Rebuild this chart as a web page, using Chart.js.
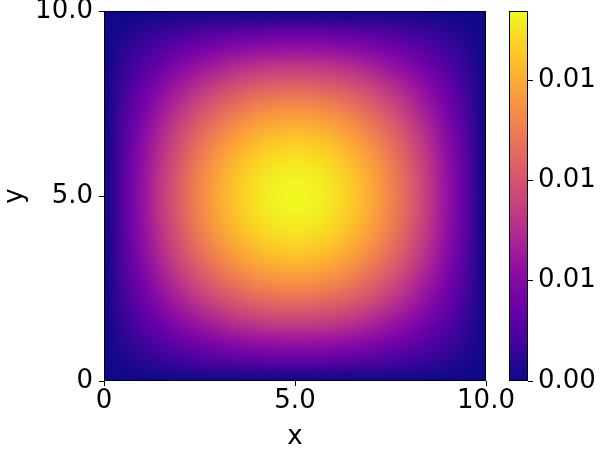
<!DOCTYPE html>
<html lang="en">
<head>
    <meta charset="UTF-8">
    <title>Heatmap</title>
    <script src="https://cdn.jsdelivr.net/npm/chart.js"></script>
    <style>
        html, body { margin: 0; padding: 0; background: #fff; }
        #wrap { width: 600px; height: 450px; }
    </style>
</head>
<body>
    <div id="wrap"><canvas id="heatChart"></canvas></div>

    <script>
        // grid nodes (x and y), values z[row = y index][col = x index]
        const xNodes = [0, 0.5, 1, 1.5, 2, 2.5, 3, 3.5, 4, 4.5, 5, 5.5, 6, 6.5, 7, 7.5, 8, 8.5, 9, 9.5, 10];
        const yNodes = [0, 0.5, 1, 1.5, 2, 2.5, 3, 3.5, 4, 4.5, 5, 5.5, 6, 6.5, 7, 7.5, 8, 8.5, 9, 9.5, 10];
        const z = [
            [0, 0, 0, 0, 0, 0, 0, 0, 0, 0, 0, 0, 0, 0, 0, 0, 0, 0, 0, 0, 0],
            [0, 0.00045, 0.00089, 0.00131, 0.00169, 0.00204, 0.00233, 0.00256, 0.00274, 0.00284, 0.00288, 0.00284, 0.00274, 0.00256, 0.00233, 0.00204, 0.00169, 0.00131, 0.00089, 0.00045, 0],
            [0, 0.00089, 0.00176, 0.00258, 0.00334, 0.00402, 0.00460, 0.00507, 0.00541, 0.00562, 0.00569, 0.00562, 0.00541, 0.00507, 0.00460, 0.00402, 0.00334, 0.00258, 0.00176, 0.00089, 0],
            [0, 0.00131, 0.00258, 0.00379, 0.00491, 0.00591, 0.00676, 0.00744, 0.00795, 0.00825, 0.00835, 0.00825, 0.00795, 0.00744, 0.00676, 0.00591, 0.00491, 0.00379, 0.00258, 0.00131, 0],
            [0, 0.00169, 0.00334, 0.00491, 0.00636, 0.00765, 0.00875, 0.00964, 0.01029, 0.01068, 0.01082, 0.01068, 0.01029, 0.00964, 0.00875, 0.00765, 0.00636, 0.00491, 0.00334, 0.00169, 0],
            [0, 0.00204, 0.00402, 0.00591, 0.00765, 0.00920, 0.01053, 0.01159, 0.01238, 0.01285, 0.01301, 0.01285, 0.01238, 0.01159, 0.01053, 0.00920, 0.00765, 0.00591, 0.00402, 0.00204, 0],
            [0, 0.00233, 0.00460, 0.00676, 0.00875, 0.01053, 0.01204, 0.01326, 0.01416, 0.01470, 0.01489, 0.01470, 0.01416, 0.01326, 0.01204, 0.01053, 0.00875, 0.00676, 0.00460, 0.00233, 0],
            [0, 0.00256, 0.00507, 0.00744, 0.00964, 0.01159, 0.01326, 0.01461, 0.01559, 0.01619, 0.01639, 0.01619, 0.01559, 0.01461, 0.01326, 0.01159, 0.00964, 0.00744, 0.00507, 0.00256, 0],
            [0, 0.00274, 0.00541, 0.00795, 0.01029, 0.01238, 0.01416, 0.01559, 0.01664, 0.01729, 0.01750, 0.01729, 0.01664, 0.01559, 0.01416, 0.01238, 0.01029, 0.00795, 0.00541, 0.00274, 0],
            [0, 0.00284, 0.00562, 0.00825, 0.01068, 0.01285, 0.01470, 0.01619, 0.01729, 0.01795, 0.01817, 0.01795, 0.01729, 0.01619, 0.01470, 0.01285, 0.01068, 0.00825, 0.00562, 0.00284, 0],
            [0, 0.00288, 0.00569, 0.00835, 0.01082, 0.01301, 0.01489, 0.01639, 0.01750, 0.01817, 0.01840, 0.01817, 0.01750, 0.01639, 0.01489, 0.01301, 0.01082, 0.00835, 0.00569, 0.00288, 0],
            [0, 0.00284, 0.00562, 0.00825, 0.01068, 0.01285, 0.01470, 0.01619, 0.01729, 0.01795, 0.01817, 0.01795, 0.01729, 0.01619, 0.01470, 0.01285, 0.01068, 0.00825, 0.00562, 0.00284, 0],
            [0, 0.00274, 0.00541, 0.00795, 0.01029, 0.01238, 0.01416, 0.01559, 0.01664, 0.01729, 0.01750, 0.01729, 0.01664, 0.01559, 0.01416, 0.01238, 0.01029, 0.00795, 0.00541, 0.00274, 0],
            [0, 0.00256, 0.00507, 0.00744, 0.00964, 0.01159, 0.01326, 0.01461, 0.01559, 0.01619, 0.01639, 0.01619, 0.01559, 0.01461, 0.01326, 0.01159, 0.00964, 0.00744, 0.00507, 0.00256, 0],
            [0, 0.00233, 0.00460, 0.00676, 0.00875, 0.01053, 0.01204, 0.01326, 0.01416, 0.01470, 0.01489, 0.01470, 0.01416, 0.01326, 0.01204, 0.01053, 0.00875, 0.00676, 0.00460, 0.00233, 0],
            [0, 0.00204, 0.00402, 0.00591, 0.00765, 0.00920, 0.01053, 0.01159, 0.01238, 0.01285, 0.01301, 0.01285, 0.01238, 0.01159, 0.01053, 0.00920, 0.00765, 0.00591, 0.00402, 0.00204, 0],
            [0, 0.00169, 0.00334, 0.00491, 0.00636, 0.00765, 0.00875, 0.00964, 0.01029, 0.01068, 0.01082, 0.01068, 0.01029, 0.00964, 0.00875, 0.00765, 0.00636, 0.00491, 0.00334, 0.00169, 0],
            [0, 0.00131, 0.00258, 0.00379, 0.00491, 0.00591, 0.00676, 0.00744, 0.00795, 0.00825, 0.00835, 0.00825, 0.00795, 0.00744, 0.00676, 0.00591, 0.00491, 0.00379, 0.00258, 0.00131, 0],
            [0, 0.00089, 0.00176, 0.00258, 0.00334, 0.00402, 0.00460, 0.00507, 0.00541, 0.00562, 0.00569, 0.00562, 0.00541, 0.00507, 0.00460, 0.00402, 0.00334, 0.00258, 0.00176, 0.00089, 0],
            [0, 0.00045, 0.00089, 0.00131, 0.00169, 0.00204, 0.00233, 0.00256, 0.00274, 0.00284, 0.00288, 0.00284, 0.00274, 0.00256, 0.00233, 0.00204, 0.00169, 0.00131, 0.00089, 0.00045, 0],
            [0, 0, 0, 0, 0, 0, 0, 0, 0, 0, 0, 0, 0, 0, 0, 0, 0, 0, 0, 0, 0]
        ];

        const xTicks = [0, 5, 10];
        const xTickLabels = ['0', '5.0', '10.0'];
        const yTicks = [0, 5, 10];
        const yTickLabels = ['0', '5.0', '10.0'];
        const cMin = 0;
        const cMax = 0.01844;
        const cTicks = [0, 0.005, 0.01, 0.015];
        const cTickLabels = ['0.00', '0.01', '0.01', '0.01'];

        // plasma colormap stops
        const plasma = ['#0d0887', '#41049d', '#6a00a8', '#8f0da4', '#b12a90', '#cc4778',
                        '#e16462', '#f2844b', '#fca636', '#fcce25', '#f0f921'];

        function hexToRgb(h) {
            return [parseInt(h.slice(1, 3), 16), parseInt(h.slice(3, 5), 16), parseInt(h.slice(5, 7), 16)];
        }
        const plasmaRgb = plasma.map(hexToRgb);

        function colorAt(v) {
            let t = (v - cMin) / (cMax - cMin);
            t = Math.max(0, Math.min(1, t)) * (plasmaRgb.length - 1);
            const i = Math.min(Math.floor(t), plasmaRgb.length - 2);
            const f = t - i;
            const a = plasmaRgb[i], b = plasmaRgb[i + 1];
            return [0, 1, 2].map(k => Math.round(a[k] + (b[k] - a[k]) * f));
        }

        function buildImage() {
            const nx = xNodes.length, ny = yNodes.length;
            const off = document.createElement('canvas');
            off.width = nx;
            off.height = ny;
            const octx = off.getContext('2d');
            const img = octx.createImageData(nx, ny);
            for (let r = 0; r < ny; r++) {
                const row = z[ny - 1 - r]; // top row of image is largest y
                for (let c = 0; c < nx; c++) {
                    const [cr, cg, cb] = colorAt(row[c]);
                    const p = (r * nx + c) * 4;
                    img.data[p] = cr;
                    img.data[p + 1] = cg;
                    img.data[p + 2] = cb;
                    img.data[p + 3] = 255;
                }
            }
            octx.putImageData(img, 0, 0);
            return off;
        }

        const heatmapPlugin = {
            id: 'heatmap',
            beforeDatasetsDraw(chart) {
                const {ctx, chartArea, scales: {x, y}} = chart;
                const img = buildImage();
                const hx = (xNodes[1] - xNodes[0]) / 2;
                const hy = (yNodes[1] - yNodes[0]) / 2;
                const left = x.getPixelForValue(xNodes[0] - hx);
                const right = x.getPixelForValue(xNodes[xNodes.length - 1] + hx);
                const top = y.getPixelForValue(yNodes[yNodes.length - 1] + hy);
                const bottom = y.getPixelForValue(yNodes[0] - hy);
                ctx.save();
                ctx.beginPath();
                ctx.rect(chartArea.left, chartArea.top, chartArea.width, chartArea.height);
                ctx.clip();
                ctx.imageSmoothingEnabled = true;
                ctx.imageSmoothingQuality = 'high';
                ctx.drawImage(img, left, top, right - left, bottom - top);
                ctx.restore();
            },
            afterDraw(chart) {
                const {ctx, chartArea, scales} = chart;
                ctx.save();
                ctx.strokeStyle = '#000';
                ctx.lineWidth = 1;
                ctx.strokeRect(Math.round(chartArea.left) + 0.5, Math.round(chartArea.top) + 0.5,
                    Math.round(chartArea.width) - 1, Math.round(chartArea.height) - 1);

                // colour bar
                const c = scales.c;
                const barRight = c.left;
                const barLeft = barRight - 19;
                const barTop = c.getPixelForValue(cMax);
                const barBottom = c.getPixelForValue(cMin);
                const grad = ctx.createLinearGradient(0, barBottom, 0, barTop);
                plasma.forEach((col, i) => grad.addColorStop(i / (plasma.length - 1), col));
                ctx.fillStyle = grad;
                ctx.fillRect(barLeft, barTop, barRight - barLeft, barBottom - barTop);
                ctx.strokeRect(Math.round(barLeft) + 0.5, Math.round(barTop) + 0.5,
                    Math.round(barRight - barLeft) - 1, Math.round(barBottom - barTop) - 1);
                ctx.restore();
            }
        };

        Chart.defaults.font.family = 'DejaVu Sans';
        Chart.defaults.font.size = 26;
        Chart.defaults.color = '#000';

        const tickGrid = {
            display: true,
            drawOnChartArea: false,
            drawTicks: true,
            tickLength: 5,
            color: '#000',
            lineWidth: 1
        };

        // keep tick labels from pushing the plot area around
        function noOverhang(s) {
            s.paddingTop = 0;
            s.paddingBottom = 0;
            s.paddingLeft = 0;
            s.paddingRight = 0;
        }

        const points = [];
        yNodes.forEach((yv, r) => xNodes.forEach((xv, c) => points.push({x: xv, y: yv, v: z[r][c]})));

        new Chart(document.getElementById('heatChart'), {
            type: 'scatter',
            data: {
                datasets: [{
                    data: points,
                    pointRadius: 0,
                    pointHoverRadius: 0
                }]
            },
            options: {
                responsive: true,
                maintainAspectRatio: false,
                animation: false,
                events: [],
                layout: { padding: { top: 11, left: 0, right: 0, bottom: 0 } },
                plugins: { legend: { display: false }, tooltip: { enabled: false } },
                scales: {
                    x: {
                        type: 'linear',
                        position: 'bottom',
                        min: 0,
                        max: 10,
                        afterBuildTicks: s => { s.ticks = xTicks.map(v => ({value: v})); },
                        afterFit: s => { s.height = 69; noOverhang(s); },
                        ticks: {
                            padding: 0,
                            maxRotation: 0,
                            callback: (v, i) => xTickLabels[i]
                        },
                        grid: tickGrid,
                        border: { display: false },
                        title: { display: true, text: 'x', padding: { top: 0, bottom: -3 } }
                    },
                    y: {
                        type: 'linear',
                        position: 'left',
                        min: 0,
                        max: 10,
                        afterBuildTicks: s => { s.ticks = yTicks.map(v => ({value: v})); },
                        afterFit: s => { s.width = 104; noOverhang(s); },
                        ticks: {
                            padding: 6,
                            callback: (v, i) => yTickLabels[i]
                        },
                        grid: tickGrid,
                        border: { display: false },
                        title: { display: true, text: 'y', padding: { top: 0, bottom: 0 } }
                    },
                    gap: {
                        type: 'linear',
                        axis: 'y',
                        position: 'right',
                        weight: 0,
                        min: 0,
                        max: 1,
                        afterFit: s => { s.width = 42; noOverhang(s); },
                        ticks: { display: false },
                        grid: { display: false },
                        border: { display: false }
                    },
                    c: {
                        type: 'linear',
                        axis: 'y',
                        position: 'right',
                        weight: 1,
                        min: cMin,
                        max: cMax,
                        afterBuildTicks: s => { s.ticks = cTicks.map(v => ({value: v})); },
                        afterFit: s => { s.width = 72; noOverhang(s); },
                        ticks: {
                            padding: 5,
                            callback: (v, i) => cTickLabels[i]
                        },
                        grid: tickGrid,
                        border: { display: false }
                    }
                }
            },
            plugins: [heatmapPlugin]
        });
    </script>
</body>
</html>
